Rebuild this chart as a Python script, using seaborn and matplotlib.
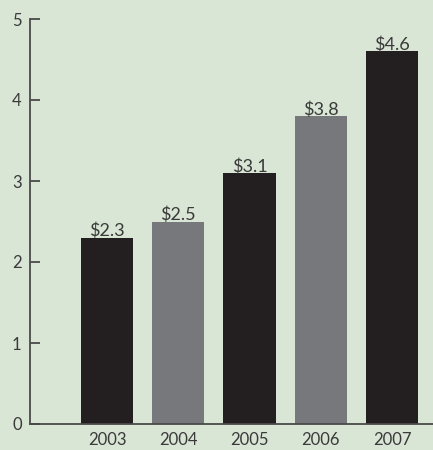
import matplotlib
matplotlib.use("Agg")
import matplotlib.pyplot as plt
import pandas as pd
import seaborn as sns

years = ["2003", "2004", "2005", "2006", "2007"]
values = [2.3, 2.5, 3.1, 3.8, 4.6]
labels = ["$2.3", "$2.5", "$3.1", "$3.8", "$4.6"]
bar_colors = ["#231f20", "#77787b", "#231f20", "#77787b", "#231f20"]

BG = "#d9e5d5"

sns.set_theme(style="white")
plt.rcParams["font.family"] = ["Lato", "DejaVu Sans"]

df = pd.DataFrame({"year": years, "value": values})

fig = plt.figure(figsize=(4.33, 4.5), dpi=100, facecolor=BG)
ax = fig.add_axes([30 / 433, 26 / 450, 403 / 433, 405 / 450])
ax.set_facecolor(BG)

sns.barplot(data=df, x="year", y="value", hue="year", palette=bar_colors,
            width=0.73, saturation=1, legend=False, linewidth=0, ax=ax)

for i, (v, lab) in enumerate(zip(values, labels)):
    ax.text(i, v - 0.02, lab, ha="center", va="bottom", fontsize=13,
            color="#3a3a3a")

ax.set_xlim(-1.08, 4.575)
ax.set_ylim(0, 5)
ax.set_yticks([0, 1, 2, 3, 4, 5])
ax.set_xlabel("")
ax.set_ylabel("")

for side in ["top", "right"]:
    ax.spines[side].set_visible(False)
for side in ["left", "bottom"]:
    ax.spines[side].set_color("#4a4a4a")
    ax.spines[side].set_linewidth(1.3)

ax.tick_params(axis="y", direction="in", length=7, width=1.3, color="#4a4a4a",
               labelsize=12, labelcolor="#3a3a3a", pad=6, left=True)
ax.tick_params(axis="x", length=0, labelsize=12, labelcolor="#3a3a3a", pad=6)

fig.savefig("out.png", dpi=100, facecolor=BG)
